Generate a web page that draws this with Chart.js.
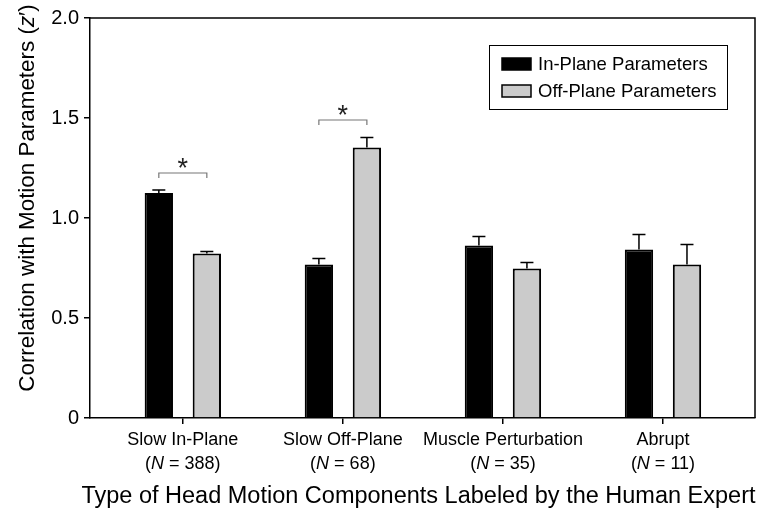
<!DOCTYPE html>
<html>
<head>
<meta charset="utf-8">
<script src="https://cdn.jsdelivr.net/npm/chart.js@4.4.1/dist/chart.umd.min.js"></script>
<style>
  html, body { margin: 0; padding: 0; background: #ffffff; }
  #wrap { width: 772px; height: 509px; }
</style>
</head>
<body>
<div id="wrap"><canvas id="c" width="772" height="509"></canvas></div>
<script>
// ---- data ----
const categories = ['Slow In-Plane', 'Slow Off-Plane', 'Muscle Perturbation', 'Abrupt'];
const sampleSizes = ['388', '68', '35', '11'];
const seriesNames = ['In-Plane Parameters', 'Off-Plane Parameters'];
const inPlane = [1.125, 0.768, 0.863, 0.843];
const inPlaneErr = [0.015, 0.03, 0.045, 0.075];
const offPlane = [0.823, 1.352, 0.747, 0.767];
const offPlaneErr = [0.01, 0.05, 0.03, 0.10];
const yTicks = [0, 0.5, 1.0, 1.5, 2.0];
const sigCategories = [0, 1];
const sigBracketY = [1.225, 1.49];

const FONT = "'Liberation Sans', Arial, Helvetica, sans-serif";
Chart.defaults.font.family = FONT;
Chart.defaults.color = '#000000';

const errors = [inPlaneErr, offPlaneErr];

const extras = {
  id: 'extras',
  afterDatasetsDraw(chart) {
    const ctx = chart.ctx;
    const y = chart.scales.y;
    const a = chart.chartArea;
    ctx.save();
    // error bars (upward only)
    ctx.strokeStyle = '#000';
    ctx.lineWidth = 1.5;
    chart.data.datasets.forEach((ds, di) => {
      const meta = chart.getDatasetMeta(di);
      meta.data.forEach((bar, i) => {
        const v = ds.data[i].y;
        const top = y.getPixelForValue(v + errors[di][i]);
        ctx.beginPath();
        ctx.moveTo(bar.x, bar.y);
        ctx.lineTo(bar.x, top);
        ctx.moveTo(bar.x - 6.5, top);
        ctx.lineTo(bar.x + 6.5, top);
        ctx.stroke();
      });
    });
    // frame top/right
    ctx.lineWidth = 1.5;
    ctx.beginPath();
    ctx.moveTo(a.left, a.top);
    ctx.lineTo(a.right, a.top);
    ctx.lineTo(a.right, a.bottom);
    ctx.stroke();
    // significance brackets
    ctx.strokeStyle = '#777777';
    ctx.lineWidth = 1.2;
    sigCategories.forEach((c, k) => {
      const b0 = chart.getDatasetMeta(0).data[c];
      const b1 = chart.getDatasetMeta(1).data[c];
      const by = y.getPixelForValue(sigBracketY[k]);
      ctx.beginPath();
      ctx.moveTo(b0.x, by + 5);
      ctx.lineTo(b0.x, by);
      ctx.lineTo(b1.x, by);
      ctx.lineTo(b1.x, by + 5);
      ctx.stroke();
      ctx.fillStyle = '#222';
      ctx.font = '27px ' + FONT;
      ctx.textAlign = 'center';
      ctx.textBaseline = 'alphabetic';
      ctx.fillText('*', (b0.x + b1.x) / 2, by + 4);
    });
    // legend
    const bx = a.right - 266, byy = a.top + 27, bw = 238, bh = 64;
    ctx.strokeStyle = '#000';
    ctx.lineWidth = 1;
    ctx.strokeRect(bx + 0.5, byy + 0.5, bw, bh);
    ctx.font = '18.5px ' + FONT;
    ctx.textAlign = 'left';
    ctx.textBaseline = 'middle';
    chart.data.datasets.forEach((ds, di) => {
      const cy = byy + 19 + di * 27;
      ctx.fillStyle = ds.backgroundColor;
      ctx.fillRect(bx + 13, cy - 6, 29, 12);
      ctx.strokeStyle = '#000';
      ctx.lineWidth = 1.5;
      ctx.strokeRect(bx + 13, cy - 6, 29, 12);
      ctx.fillStyle = '#000';
      ctx.fillText(ds.label, bx + 49, cy + 1);
    });
    // x tick labels
    const xs = chart.scales.x;
    ctx.textBaseline = 'alphabetic';
    categories.forEach((cat, i) => {
      const cx = xs.getPixelForValue(i);
      ctx.font = '18px ' + FONT;
      ctx.textAlign = 'center';
      ctx.fillText(cat, cx, a.bottom + 27);
      const p1 = '(', p2 = 'N', p3 = ' = ' + sampleSizes[i] + ')';
      ctx.font = '18px ' + FONT;
      const w1 = ctx.measureText(p1).width, w3 = ctx.measureText(p3).width;
      ctx.font = 'italic 18px ' + FONT;
      const w2 = ctx.measureText(p2).width;
      let sx = cx - (w1 + w2 + w3) / 2;
      ctx.textAlign = 'left';
      ctx.font = '18px ' + FONT;
      ctx.fillText(p1, sx, a.bottom + 51);
      ctx.font = 'italic 18px ' + FONT;
      ctx.fillText(p2, sx + w1, a.bottom + 51);
      ctx.font = '18px ' + FONT;
      ctx.fillText(p3, sx + w1 + w2, a.bottom + 51);
    });
    // x title
    ctx.font = '23.5px ' + FONT;
    ctx.textAlign = 'center';
    ctx.fillText('Type of Head Motion Components Labeled by the Human Expert', (a.left + a.right) / 2 - 4, 503);
    // y title (rotated, italic z)
    ctx.translate(34, 198);
    ctx.rotate(-Math.PI / 2);
    const t1 = 'Correlation with Motion Parameters (', t2 = 'z', t3 = '\u2032)';
    ctx.font = '22.4px ' + FONT;
    const u1 = ctx.measureText(t1).width, u3 = ctx.measureText(t3).width;
    ctx.font = 'italic 22.4px ' + FONT;
    const u2 = ctx.measureText(t2).width;
    let s = -(u1 + u2 + u3) / 2;
    ctx.textAlign = 'left';
    ctx.font = '22.4px ' + FONT;
    ctx.fillText(t1, s, 0);
    ctx.font = 'italic 22.4px ' + FONT;
    ctx.fillText(t2, s + u1, 0);
    ctx.font = '22.4px ' + FONT;
    ctx.fillText(t3, s + u1 + u2, 0);
    ctx.restore();
  }
};

new Chart(document.getElementById('c'), {
  type: 'bar',
  data: {
    datasets: [
      {
        label: seriesNames[0],
        data: inPlane.map((v, i) => ({ x: i, y: v })),
        backgroundColor: '#000000',
        borderColor: '#000000',
        borderWidth: 2,
        categoryPercentage: 0.6,
        barPercentage: 0.59
      },
      {
        label: seriesNames[1],
        data: offPlane.map((v, i) => ({ x: i, y: v })),
        backgroundColor: '#cbcbcb',
        borderColor: '#000000',
        borderWidth: 2,
        categoryPercentage: 0.6,
        barPercentage: 0.59
      }
    ]
  },
  options: {
    responsive: false,
    animation: false,
    layout: { padding: { top: 18, right: 17, left: 0, bottom: 0 } },
    plugins: { legend: { display: false }, tooltip: { enabled: false } },
    scales: {
      x: {
        type: 'linear',
        min: -0.58,
        max: 3.575,
        offset: false,
        afterBuildTicks: (s) => { s.ticks = categories.map((_, i) => ({ value: i })); },
        afterFit: (s) => { s.height = 91; },
        ticks: { display: false },
        grid: { display: true, offset: false, drawOnChartArea: false, drawTicks: true, tickLength: 6, color: '#000', lineWidth: 1.5 },
        border: { display: true, color: '#000', width: 1.5 }
      },
      y: {
        min: 0,
        max: 2,
        afterBuildTicks: (s) => { s.ticks = yTicks.map(v => ({ value: v })); },
        afterFit: (s) => { s.width = 90; },
        ticks: {
          font: { size: 20 },
          color: '#000',
          padding: 5,
          callback: (v) => (v === 0 ? '0' : v.toFixed(1))
        },
        grid: { display: true, drawOnChartArea: false, drawTicks: true, tickLength: 6, color: '#000', lineWidth: 1.5 },
        border: { display: true, color: '#000', width: 1.5 }
      }
    }
  },
  plugins: [extras]
});
</script>
</body>
</html>
